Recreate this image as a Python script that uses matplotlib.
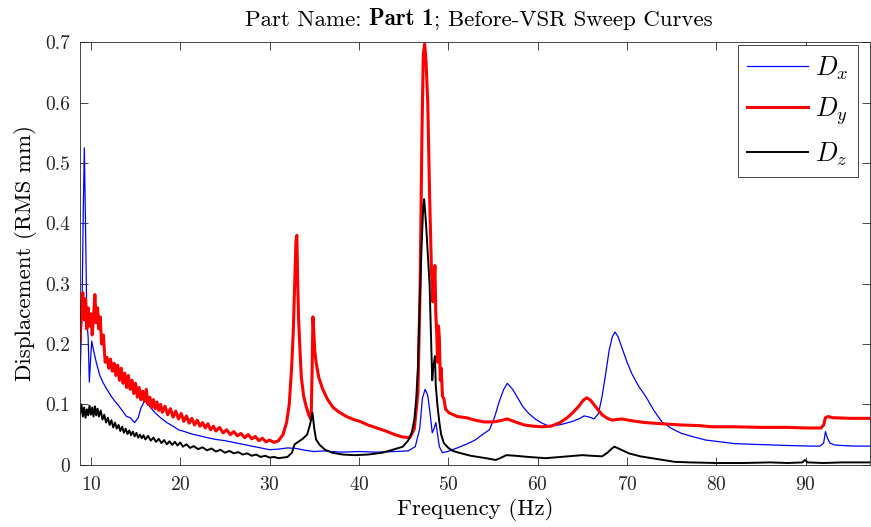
import numpy as np
import matplotlib
matplotlib.use("Agg")
import matplotlib.pyplot as plt

plt.rcParams['font.family'] = 'cmr10'
plt.rcParams['mathtext.fontset'] = 'cm'
plt.rcParams['axes.formatter.use_mathtext'] = True

## Dx (blue)
fx = [8.8, 9.0, 9.15, 9.27, 9.4, 9.55, 9.7, 9.83, 9.95, 10.1,
      10.3, 10.6, 11.0, 11.4, 11.8, 12.3, 12.7, 13.1, 13.5, 14.0,
      14.4, 14.9, 15.3, 15.6, 16.05, 16.5, 17.2, 17.8, 18.5, 19.2,
      19.8, 20.5, 21.3, 22.2, 23, 24, 25, 26, 27, 28,
      29, 30, 31, 32, 33, 34, 35, 36, 38, 40,
      42, 44, 45.5, 46.3, 46.8, 47.1, 47.4, 47.7, 48.0, 48.2,
      48.4, 48.6, 48.8, 49.0, 49.35, 49.9, 51, 52, 53, 53.8,
      54.6, 55.2, 55.7, 56.2, 56.6, 57.2, 57.8, 58.3, 59, 59.8,
      60.5, 61.1, 62.4, 63.2, 63.9, 64.6, 65.2, 65.8, 66.3, 66.8,
      67.2, 67.6, 68.0, 68.35, 68.65, 69.0, 69.4, 70.0, 70.5, 71.3,
      72.1, 73.0, 73.9, 75, 76.1, 77.5, 78.8, 80.5, 82.1, 84,
      86, 88, 90.6, 91.6, 92.0, 92.2, 92.4, 92.7, 93.2, 94,
      95.5, 97.2]
dx = [0.15, 0.25, 0.42, 0.525, 0.40, 0.24, 0.21, 0.137, 0.17, 0.205,
      0.19, 0.17, 0.148, 0.135, 0.125, 0.113, 0.105, 0.098, 0.09, 0.08,
      0.078, 0.07, 0.078, 0.094, 0.107, 0.098, 0.086, 0.078, 0.07, 0.064,
      0.058, 0.055, 0.051, 0.048, 0.045, 0.042, 0.04, 0.037, 0.034, 0.031,
      0.028, 0.025, 0.026, 0.028, 0.027, 0.024, 0.022, 0.023, 0.021, 0.022,
      0.021, 0.022, 0.023, 0.03, 0.06, 0.11, 0.125, 0.115, 0.08, 0.053,
      0.06, 0.07, 0.05, 0.03, 0.02, 0.022, 0.028, 0.034, 0.041, 0.05,
      0.058, 0.08, 0.105, 0.125, 0.135, 0.125, 0.11, 0.097, 0.085, 0.075,
      0.069, 0.065, 0.066, 0.069, 0.072, 0.076, 0.081, 0.079, 0.076, 0.085,
      0.113, 0.15, 0.19, 0.212, 0.22, 0.212, 0.195, 0.17, 0.152, 0.13,
      0.113, 0.09, 0.071, 0.06, 0.052, 0.046, 0.041, 0.038, 0.035, 0.034,
      0.033, 0.032, 0.031, 0.031, 0.036, 0.055, 0.045, 0.036, 0.033, 0.032,
      0.031, 0.031]

## Dy (red)
fy = [8.8, 8.95, 9.1, 9.25, 9.4, 9.55, 9.7, 9.85, 10.0, 10.15,
      10.3, 10.45, 10.6, 10.75, 10.9, 11.05, 11.2, 11.4, 11.6, 11.8,
      12.0, 12.2, 12.4, 12.6, 12.8, 13.0, 13.2, 13.4, 13.6, 13.8,
      14.0, 14.2, 14.4, 14.6, 14.8, 15.0, 15.2, 15.4, 15.6, 15.8,
      16.0, 16.2, 16.4, 16.6, 16.8, 17.0, 17.2, 17.4, 17.6, 17.8,
      18.0, 18.3, 18.6, 18.9, 19.2, 19.5, 19.8, 20.1, 20.4, 20.7,
      21.0, 21.3, 21.6, 21.9, 22.2, 22.5, 22.8, 23.1, 23.4, 23.7,
      24.0, 24.4, 24.8, 25.2, 25.6, 26.0, 26.4, 26.8, 27.2, 27.6,
      28.0, 28.4, 28.8, 29.2, 29.6, 30.0, 30.5, 31.0, 31.5, 31.9,
      32.2, 32.45, 32.65, 32.8, 32.95, 33.05, 33.15, 33.25, 33.4, 33.55,
      33.8, 34.1, 34.4, 34.65, 34.75, 34.85, 34.95, 35.05, 35.2, 35.5,
      35.95, 36.5, 37.1, 37.8, 38.6, 39.4, 40.1, 41, 42, 43,
      44, 44.9, 45.7, 46.2, 46.6, 46.85, 47.05, 47.2, 47.35, 47.5,
      47.7, 47.9, 48.1, 48.25, 48.4, 48.5, 48.6, 48.7, 48.8, 48.9,
      49.0, 49.1, 49.2, 49.35, 49.5, 49.7, 50.1, 51, 52, 53,
      54, 55, 55.8, 56.6, 57.5, 58.5, 59.5, 60.5, 61.5, 62.5,
      63.3, 63.9, 64.6, 65.1, 65.5, 65.9, 66.5, 67.2, 67.8, 68.3,
      69.4, 70.5, 72, 73.9, 76, 78, 79.5, 82, 85, 88,
      90, 91.7, 92.0, 92.2, 92.5, 93, 95, 97.2]
dy = [0.205, 0.26, 0.285, 0.24, 0.275, 0.225, 0.26, 0.23, 0.25, 0.215,
      0.245, 0.282, 0.235, 0.26, 0.225, 0.245, 0.2, 0.215, 0.17, 0.178,
      0.16, 0.175, 0.155, 0.168, 0.148, 0.165, 0.14, 0.16, 0.135, 0.152,
      0.128, 0.148, 0.125, 0.14, 0.118, 0.135, 0.112, 0.128, 0.108, 0.122,
      0.105, 0.125, 0.1, 0.112, 0.095, 0.108, 0.093, 0.104, 0.09, 0.1,
      0.087, 0.097, 0.083, 0.093, 0.079, 0.089, 0.076, 0.085, 0.072, 0.081,
      0.069, 0.077, 0.066, 0.074, 0.064, 0.07, 0.061, 0.068, 0.058, 0.064,
      0.056, 0.062, 0.053, 0.058, 0.05, 0.055, 0.048, 0.052, 0.045, 0.05,
      0.043, 0.047, 0.04, 0.044, 0.038, 0.041, 0.037, 0.04, 0.05, 0.07,
      0.1, 0.157, 0.22, 0.295, 0.37, 0.38, 0.3, 0.24, 0.19, 0.146,
      0.115, 0.096, 0.082, 0.075, 0.15, 0.245, 0.22, 0.19, 0.17, 0.145,
      0.125, 0.108, 0.095, 0.087, 0.08, 0.075, 0.072, 0.066, 0.061, 0.056,
      0.05, 0.046, 0.045, 0.06, 0.12, 0.3, 0.55, 0.68, 0.697, 0.67,
      0.6, 0.45, 0.33, 0.27, 0.3, 0.33, 0.25, 0.22, 0.17, 0.23,
      0.21, 0.14, 0.16, 0.113, 0.11, 0.092, 0.086, 0.08, 0.078, 0.074,
      0.071, 0.071, 0.073, 0.076, 0.071, 0.066, 0.064, 0.063, 0.064, 0.07,
      0.078, 0.086, 0.097, 0.107, 0.111, 0.107, 0.096, 0.083, 0.077, 0.074,
      0.076, 0.073, 0.07, 0.068, 0.066, 0.065, 0.063, 0.063, 0.062, 0.062,
      0.061, 0.061, 0.066, 0.078, 0.08, 0.078, 0.077, 0.077]

## Dz (black)
fz = [8.8, 8.95, 9.1, 9.25, 9.4, 9.55, 9.7, 9.85, 10.0, 10.15,
      10.3, 10.45, 10.6, 10.75, 10.9, 11.1, 11.3, 11.5, 11.7, 11.9,
      12.1, 12.3, 12.5, 12.7, 12.9, 13.1, 13.3, 13.5, 13.7, 13.9,
      14.1, 14.3, 14.5, 14.7, 14.9, 15.1, 15.3, 15.5, 15.7, 15.9,
      16.1, 16.4, 16.7, 17.0, 17.3, 17.6, 17.9, 18.2, 18.5, 18.8,
      19.1, 19.4, 19.7, 20.0, 20.3, 20.7, 21.1, 21.5, 22.0, 22.5,
      23.0, 23.5, 24.0, 24.5, 25.0, 25.5, 26.0, 26.5, 27.0, 27.5,
      28.0, 28.5, 29.0, 29.5, 30.0, 30.5, 31.0, 31.5, 32.0, 32.5,
      32.8, 33.2, 33.7, 34.2, 34.5, 34.8, 35.0, 35.2, 35.6, 36.2,
      37.0, 38.2, 39.5, 41, 42.6, 43.8, 44.9, 45.5, 45.9, 46.2,
      46.4, 46.6, 46.8, 47.0, 47.2, 47.3, 47.5, 47.7, 47.9, 48.05,
      48.2, 48.3, 48.4, 48.5, 48.6, 48.8, 49.0, 49.2, 49.5, 50.0,
      50.5, 51.2, 52.5, 54.2, 55.3, 55.8, 56.5, 57.5, 59, 60.9,
      62.5, 64, 65, 66, 67.2, 67.8, 68.3, 68.6, 69.2, 70.2,
      71.5, 73.2, 75.3, 77, 80, 83, 86, 88, 89.6, 89.9,
      90.2, 92, 94, 97.2]
dz = [0.085, 0.1, 0.08, 0.095, 0.078, 0.092, 0.082, 0.098, 0.083, 0.095,
      0.08, 0.097, 0.082, 0.093, 0.08, 0.09, 0.075, 0.083, 0.07, 0.078,
      0.066, 0.074, 0.062, 0.07, 0.06, 0.066, 0.056, 0.063, 0.053, 0.06,
      0.051, 0.057, 0.049, 0.055, 0.047, 0.053, 0.045, 0.05, 0.044, 0.049,
      0.042, 0.048, 0.04, 0.045, 0.038, 0.043, 0.036, 0.041, 0.034, 0.039,
      0.033, 0.038, 0.032, 0.037, 0.03, 0.034, 0.028, 0.031, 0.026, 0.029,
      0.024, 0.027, 0.022, 0.025, 0.02, 0.023, 0.019, 0.021, 0.017, 0.019,
      0.015, 0.017, 0.013, 0.015, 0.012, 0.013, 0.011, 0.012, 0.013, 0.02,
      0.034, 0.038, 0.043, 0.05, 0.065, 0.086, 0.06, 0.042, 0.033, 0.025,
      0.02, 0.017, 0.016, 0.017, 0.02, 0.025, 0.03, 0.04, 0.053, 0.075,
      0.107, 0.16, 0.27, 0.36, 0.43, 0.44, 0.4, 0.35, 0.3, 0.22,
      0.14, 0.16, 0.17, 0.18, 0.13, 0.096, 0.07, 0.05, 0.036, 0.028,
      0.023, 0.02, 0.015, 0.011, 0.008, 0.011, 0.016, 0.015, 0.013, 0.011,
      0.013, 0.015, 0.016, 0.015, 0.014, 0.02, 0.027, 0.03, 0.026, 0.019,
      0.014, 0.01, 0.005, 0.004, 0.003, 0.003, 0.004, 0.003, 0.004, 0.008,
      0.004, 0.003, 0.004, 0.004]

xticks = [10, 20, 30, 40, 50, 60, 70, 80, 90]
yticks = [0, 0.1, 0.2, 0.3, 0.4, 0.5, 0.6, 0.7]
ytick_labels = ['0', '0.1', '0.2', '0.3', '0.4', '0.5', '0.6', '0.7']

fig = plt.figure(figsize=(8.71, 5.27), dpi=100)
ax = fig.add_axes([0.092, 0.118, 0.907, 0.802])

ax.plot(fx, dx, color='#0000ff', lw=0.9, label=r'$D_x$')
ax.plot(fy, dy, color='#ff0000', lw=2.2, label=r'$D_y$')
ax.plot(fz, dz, color='#000000', lw=1.4, label=r'$D_z$')

ax.set_xlim(8.8, 97.2)
ax.set_ylim(0, 0.7)
ax.set_xticks(xticks)
ax.set_yticks(yticks)
ax.set_yticklabels(ytick_labels)
ax.tick_params(direction='in', top=True, right=True, length=6, width=0.6,
               labelsize=14, colors='#262626')
ax.tick_params(axis='x', pad=8)
ax.tick_params(axis='y', pad=7)
for s in ax.spines.values():
    s.set_linewidth(0.6)
    s.set_color('#262626')

ax.set_xlabel('Frequency (Hz)', fontsize=16.5, labelpad=3)
ax.set_ylabel('Displacement (RMS mm)', fontsize=16.5, labelpad=6)

# title, with "Part 1" in bold
t1 = fig.text(245 / 871, 1 - 26 / 527, 'Part Name: ', fontsize=16.5, va='baseline', ha='left')
t2 = ax.annotate('Part 1', xy=(1, 0), xycoords=t1, va='bottom', ha='left',
                 fontsize=16.5, family='cmb10')
t3 = ax.annotate('; Before-VSR Sweep Curves', xy=(1, 0), xycoords=t2, va='bottom',
                 ha='left', fontsize=16.5)

leg = ax.legend(loc='upper right', fontsize=19, handlelength=2.3, handletextpad=0.3,
                fancybox=False, edgecolor='#262626', framealpha=1, borderpad=0.35,
                labelspacing=0.5, borderaxespad=0, bbox_to_anchor=(0.985, 0.993))
leg.get_frame().set_linewidth(0.6)

fig.savefig('out.png', dpi=100)
